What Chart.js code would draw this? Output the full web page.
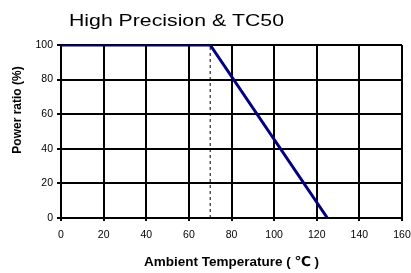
<!DOCTYPE html>
<html>
<head>
<meta charset="utf-8">
<script src="https://cdn.jsdelivr.net/npm/chart.js@4.4.1/dist/chart.umd.min.js"></script>
<style>
  html, body { margin: 0; padding: 0; background: #fff; overflow: hidden; }
  #wrap { position: relative; width: 411px; height: 273px; }
  #wrap canvas { display: block; }
</style>
</head>
<body>
<div id="wrap"><canvas id="derating"></canvas></div>
<script>
// ================== Data ==================
const chartTitle = 'High Precision & TC50';
const xTitle = 'Ambient Temperature ( ℃ )';
const yTitle = 'Power ratio (%)';

// derating curve: temperature (°C) -> power ratio (%)
const curveTemp = [0, 70, 125];
const curvePower = [100, 100, 0];

// dashed marker at the knee point
const kneeTemp = [70, 70];
const kneePower = [0, 100];

const xTicks = [0, 20, 40, 60, 80, 100, 120, 140, 160];
const yTicks = [0, 20, 40, 60, 80, 100];

const toPoints = (xs, ys) => xs.map((x, i) => ({ x, y: ys[i] }));

// ================== Titles drawn on canvas ==================
const titlesPlugin = {
  id: 'titles',
  afterDraw(chart) {
    const ctx = chart.ctx;
    ctx.save();
    ctx.fillStyle = '#000';
    ctx.textBaseline = 'alphabetic';
    ctx.textAlign = 'left';

    // chart title is drawn a bit wider than the plain font
    ctx.save();
    ctx.font = '17px "Liberation Sans", Arial, sans-serif';
    ctx.translate(69, 26);
    ctx.scale(1.25, 1);
    ctx.fillText(chartTitle, 0, 0);
    ctx.restore();

    ctx.font = 'bold 13.5px "Liberation Sans", Arial, "DejaVu Sans", sans-serif';
    ctx.fillText(xTitle, 144, 266);

    ctx.font = 'bold 12px "Liberation Sans", Arial, sans-serif';
    ctx.translate(21, 110);
    ctx.rotate(-Math.PI / 2);
    ctx.textAlign = 'center';
    ctx.fillText(yTitle, 0, 0);
    ctx.restore();
  }
};

// ================== Chart ==================
new Chart(document.getElementById('derating'), {
  type: 'line',
  data: {
    datasets: [
      {
        label: 'Derating',
        data: toPoints(curveTemp, curvePower),
        borderColor: '#000080',
        borderWidth: 3,
        pointRadius: 0,
        tension: 0,
        order: 1
      },
      {
        label: 'Knee',
        data: toPoints(kneeTemp, kneePower),
        borderColor: '#000',
        borderWidth: 1,
        borderDash: [3, 3],
        pointRadius: 0,
        order: 2
      }
    ]
  },
  options: {
    responsive: true,
    maintainAspectRatio: false,
    animation: false,
    layout: { padding: { top: 45, right: 9, bottom: 0, left: 0 } },
    plugins: {
      legend: { display: false },
      tooltip: { enabled: false },
      title: { display: false }
    },
    scales: {
      x: {
        type: 'linear',
        min: 0,
        max: 160,
        afterBuildTicks: scale => { scale.ticks = xTicks.map(v => ({ value: v })); },
        afterFit: scale => {
          scale.height = 55;
          // let the last label hang over the right edge like the original
          scale.paddingLeft = 0;
          scale.paddingRight = 0;
        },
        grid: { color: '#000', lineWidth: 2, tickLength: 3 },
        border: { color: '#000', width: 2 },
        ticks: {
          color: '#000',
          padding: 8,
          maxRotation: 0,
          font: { family: '"Liberation Sans", Arial, sans-serif', size: 10.5 }
        }
      },
      y: {
        min: 0,
        max: 100,
        afterBuildTicks: scale => { scale.ticks = yTicks.map(v => ({ value: v })); },
        afterFit: scale => { scale.width = 61; },
        grid: { color: '#000', lineWidth: 2, tickLength: 4 },
        border: { color: '#000', width: 2 },
        ticks: {
          color: '#000',
          padding: 4,
          font: { family: '"Liberation Sans", Arial, sans-serif', size: 10.5 }
        }
      }
    }
  },
  plugins: [titlesPlugin]
});
</script>
</body>
</html>
